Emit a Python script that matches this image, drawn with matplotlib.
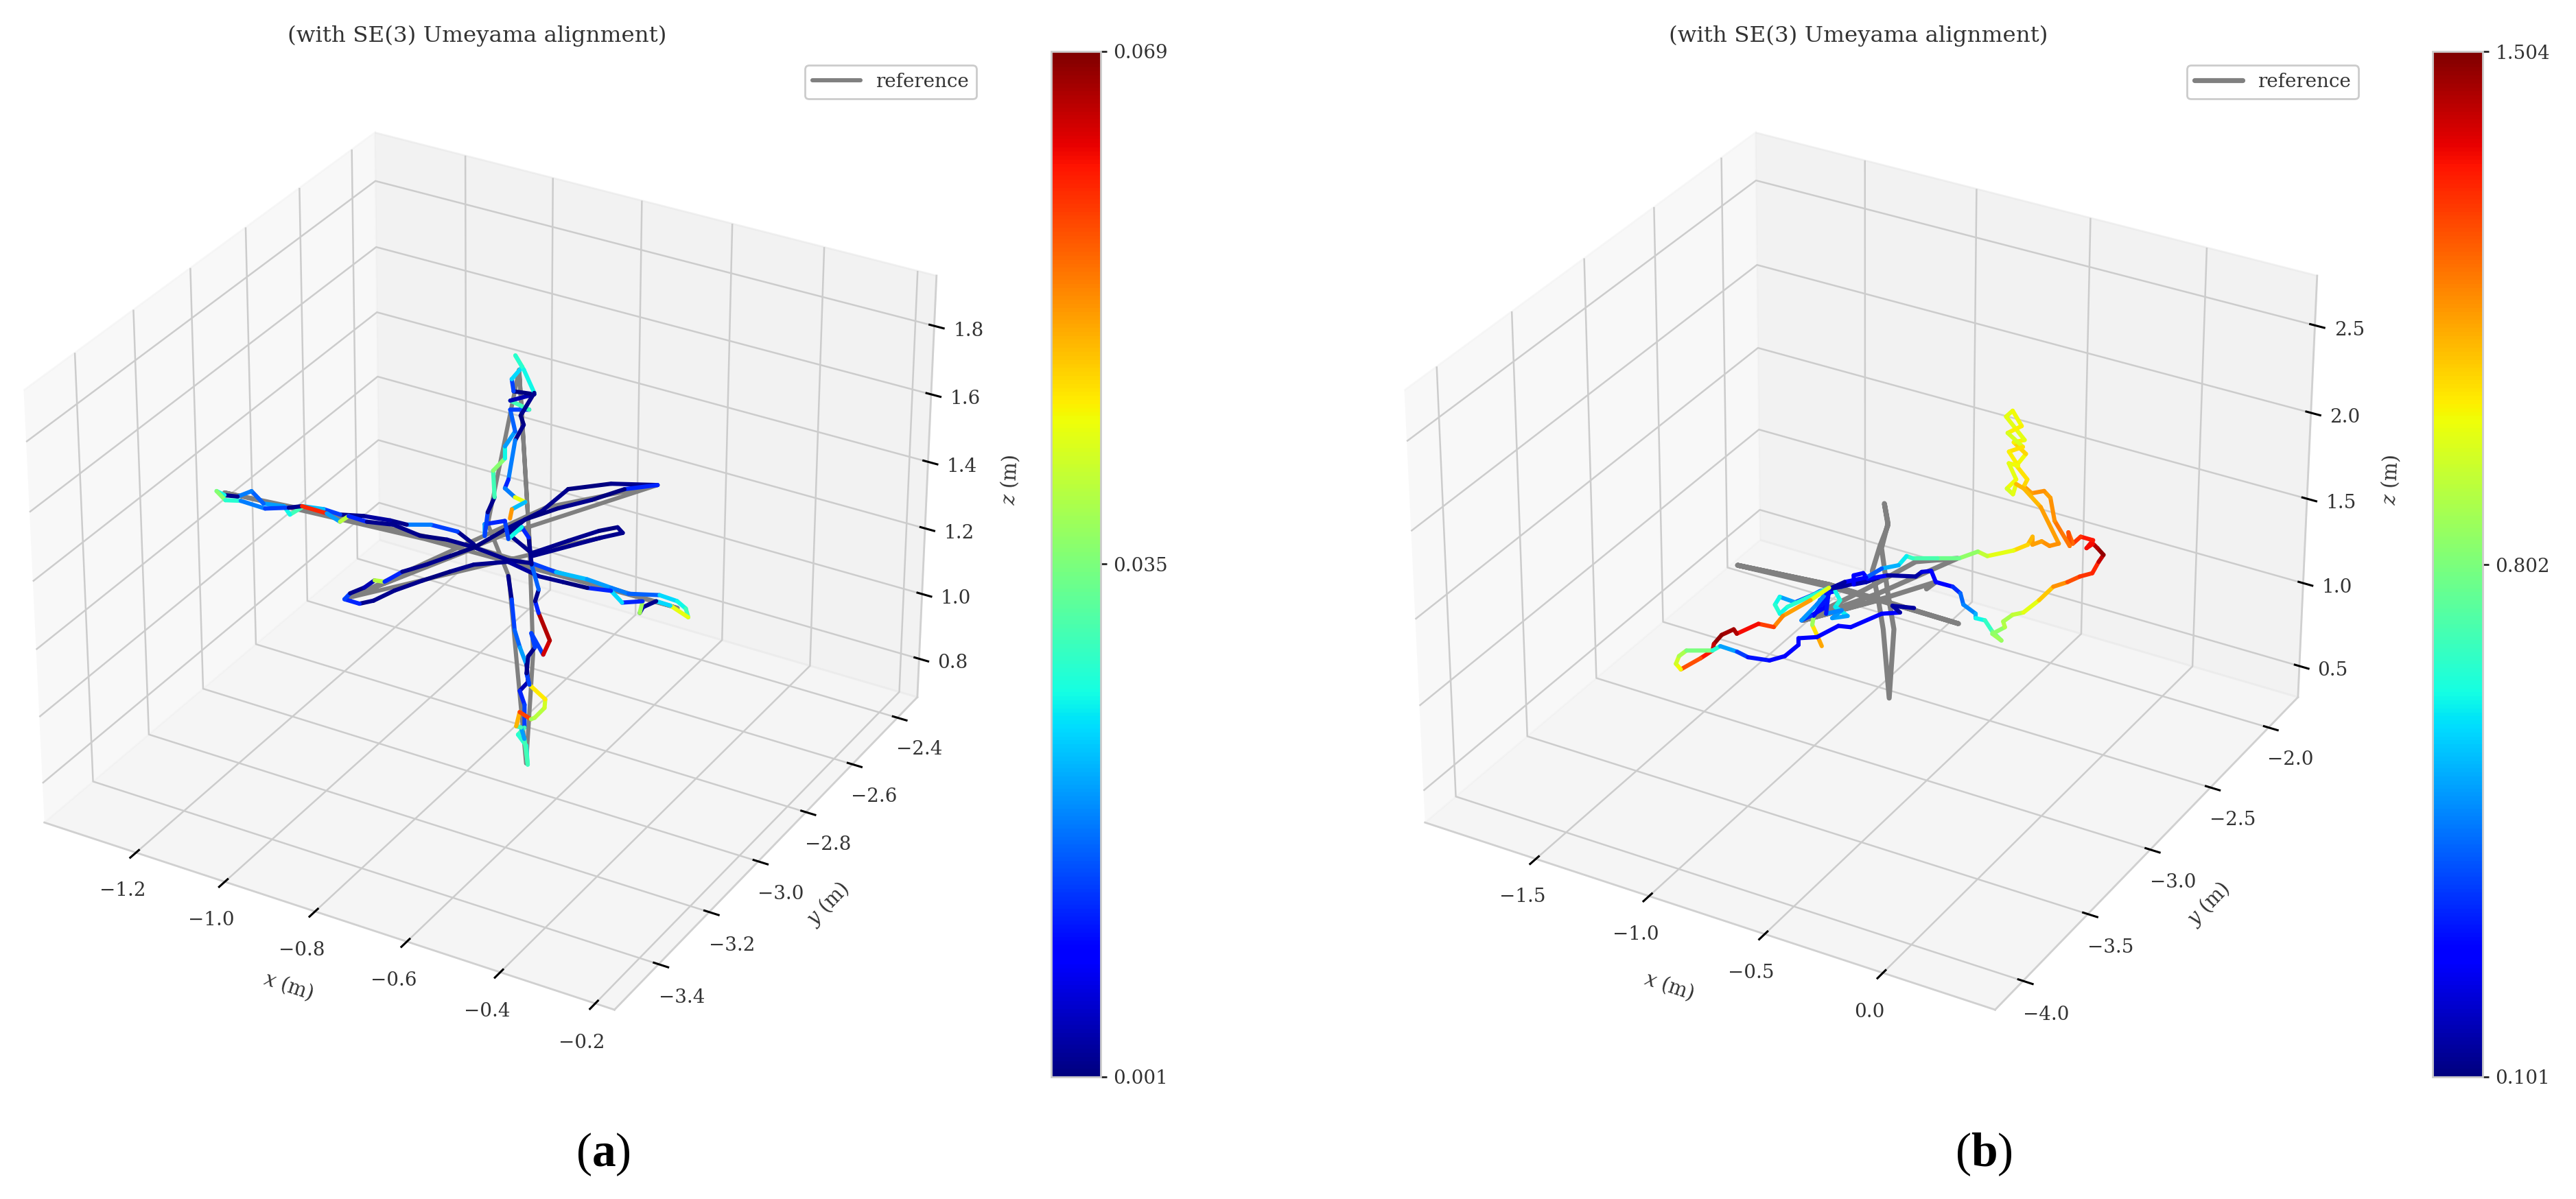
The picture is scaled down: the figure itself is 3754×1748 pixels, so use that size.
import numpy as np
import matplotlib
matplotlib.use("Agg")
import matplotlib.pyplot as plt
import matplotlib.ticker
from matplotlib.colors import Normalize
from matplotlib.cm import ScalarMappable
from mpl_toolkits.mplot3d.art3d import Line3DCollection

plt.rcParams['font.family'] = ['DejaVu Serif']
plt.rcParams['mathtext.fontset'] = 'custom'
plt.rcParams['mathtext.rm'] = 'Liberation Serif'
plt.rcParams['mathtext.bf'] = 'Liberation Serif:bold'
plt.rcParams['mathtext.it'] = 'Liberation Serif:italic'

W, H, DPI = 3755, 1748, 200
TITLE = "(with SE(3) Umeyama alignment)"

# ---------- panel (a): estimated trajectory ----------
ax_px = [-.806,-.858,-.916,-.956,-.992,-1.045,-1.087,-1.126,-1.165,-1.171,-1.198,-1.238,-1.284,-1.296,-1.321,-1.343,-1.309,-1.282,-1.225,-1.187,-1.168,-1.112,-1.073,-1.070,-1.028,-.978,-.912,-.860,-.800,-.720,
         -.678,-.622,-.558,-.503,-.464,-.411,-.372,-.345,-.326,-.375,-.406,-.417,-.412,-.428,-.459,-.498,-.542,-.592,-.642,-.720,
         -.771,-.797,-.825,-.852,-.867,-.884,-.917,-.919,-.907,-.904,-.885,-.875,-.849,-.826,-.803,-.784,-.760,-.758,-.696,-.615,-.663,-.698,-.738,-.772,-.774,-.697,-.659,-.627,-.603,-.584,-.611,-.648,-.691]
ay_px = [-2.961,-2.934,-2.937,-2.960,-2.962,-2.973,-2.991,-2.989,-2.999,-3.040,-3.018,-3.029,-2.999,-3.031,-3.039,-3.033,-3.055,-3.042,-3.044,-3.018,-3.000,-3.000,-3.015,-2.988,-2.989,-2.973,-2.984,-2.971,-2.970,-2.980,
         -2.962,-2.968,-2.962,-2.967,-2.970,-2.945,-2.948,-2.964,-2.990,-2.969,-2.968,-3.000,-3.022,-2.981,-3.005,-2.977,-2.990,-2.994,-2.998,-2.980,
         -3.022,-3.068,-3.123,-3.182,-3.234,-3.257,-3.257,-3.233,-3.201,-3.168,-3.163,-3.114,-3.067,-3.016,-2.965,-2.867,-2.778,-2.676,-2.615,-2.574,-2.621,-2.691,-2.752,-2.822,-2.886,-2.929,-2.851,-2.789,-2.759,-2.773,-2.810,-2.869,-2.938]
az_px = [1.335]*30 + [1.33]*53
ae_px = [.002,.014,.018,.002,.003,.002,.014,.022,.030,.026,.020,.016,.018,.002,.026,.036,.028,.018,.014,.002,.060,.020,.040,.012,.002,.002,.001,.002,.002,.002,
         .014,.022,.020,.018,.016,.024,.026,.030,.044,.024,.002,.004,.038,.012,.024,.012,.001,.002,.003,.002,
         .002,.001,.002,.002,.002,.012,.014,.002,.004,.040,.012,.002,.002,.001,.001,.002,.002,.001,.002,.012,.001,.002,.001,.002,.002,.002,.002,.001,.002,.002,.002,.002,.002]

ax_zt = [-.753,-.747,-.742,-.733,-.722,-.719,-.733,-.725,-.725,-.736,-.722,-.719,-.725,-.731,-.739,-.733,-.714,-.708,-.691,-.690,-.717,-.722,-.719,-.708,-.714,-.694,-.683,-.702,-.708,-.702,-.714,-.719,-.731,-.753,-.759,-.792,-.792,-.787,-.776,-.778,-.759,-.759,-.742,-.750,-.719,-.750,-.711,-.745,-.748,-.731,-.742,-.728,-.711,-.733,-.728,-.742,-.753,-.759,-.742,-.725,-.747,-.750]
ay_zt = [-2.921,-2.918,-2.915,-2.910,-2.903,-2.902,-2.910,-2.905,-2.905,-2.911,-2.903,-2.902,-2.905,-2.908,-2.913,-2.910,-2.899,-2.895,-2.886,-2.885,-2.900,-2.903,-2.902,-2.895,-2.899,-2.887,-2.881,-2.892,-2.895,-2.892,-2.899,-2.902,-2.908,-2.921,-2.924,-2.944,-2.944,-2.941,-2.934,-2.936,-2.924,-2.924,-2.915,-2.920,-2.902,-2.920,-2.897,-2.916,-2.918,-2.908,-2.915,-2.907,-2.897,-2.910,-2.907,-2.915,-2.921,-2.924,-2.915,-2.905,-2.918,-2.920]
az_zt = [1.235,1.165,1.073,1.021,.968,.916,.889,.846,.776,.754,.720,.662,.741,.776,.780,.824,.802,.806,.837,.863,.907,.942,.994,1.021,1.064,.999,1.042,1.125,1.160,1.195,1.270,1.350,1.380,1.345,1.398,1.389,1.354,1.424,1.468,1.546,1.581,1.616,1.660,1.723,1.723,1.749,1.767,1.775,1.810,1.845,1.878,1.837,1.771,1.706,1.679,1.634,1.520,1.494,1.468,1.454,1.433,1.406]
ae_zt = [.002,.014,.016,.020,.002,.004,.012,.014,.030,.028,.026,.030,.020,.030,.050,.058,.038,.040,.042,.046,.014,.002,.002,.014,.014,.064,.066,.012,.002,.016,.002,.012,.026,.014,.012,.020,.014,.002,.030,.036,.026,.020,.016,.014,.030,.004,.001,.014,.024,.036,.028,.026,.002,.001,.002,.018,.012,.018,.044,.022,.052,.002]

# ---------- panel (a): reference ----------
ax_rf = [-.720,-.90,-1.327,-1.10,-.80,-.359,-.55,-.720,-.80,-.912,-.78,-.615,-.76,-.912,-.611,-.700,-.736,-.787,-.752,-.722,-.712,-.719,-.736]
ay_rf = [-2.980,-2.985,-3.030,-2.995,-2.965,-2.970,-2.975,-2.980,-2.965,-3.247,-2.900,-2.574,-2.760,-3.247,-2.810,-2.930,-2.911,-2.941,-2.921,-2.903,-2.895,-2.900,-2.911]
az_rf = [1.33,1.33,1.335,1.33,1.33,1.33,1.33,1.33,1.33,1.33,1.33,1.33,1.33,1.33,1.33,1.33,1.837,1.389,1.235,.665,1.000,1.354,1.837]

# ---------- panel (b): estimated trajectory ----------
bx_tr = [-.926,-.942,-.957,-.952,-.901,-.931,-.911,-.962,-.992,-.942,-.911,-.881,-.865,-.881,-.840,-.891,-.860,-.911,-.901,-.860,-.739,-.779,-.820,-.820,-.789,-.774,-.708,-.617,-.597,-.566,-.551,-.495,-.470,-.460,-.419,-.419,-.388,-.363,-.333,-.363,-.322,-.328,-.297,-.262,-.211,-.165,-.119,-.079,-.038,-.018,-.003,-.023,-.038,-.059,-.038,-.079,-.104,-.119,-.114,-.165,-.180,-.201,-.241,-.267,-.256,-.292,-.262,-.302,-.267,-.328,-.307,-.277,-.322,-.272,-.317,-.287,-.317,-.292,-.322,-.302,-.292,-.267,-.211,-.150,-.180,-.206,-.236,-.236,-.251,-.297,-.383,-.414,-.475,-.546,-.627,-.647,-.673,-.728,-.779,-.850,-.901,-.931,-.952,-1.013,-1.063,-1.079,-1.063,-1.038,-.901,-.962,-1.053,-1.084,-1.134,-1.206,-1.216,-1.256,-1.282,-1.287,-1.327,-1.393,-1.409,-1.398,-1.373,-1.287,-1.261,-1.206,-1.170,-1.099,-1.048,-1.003,-1.003,-.942,-.871,-.830,-.728,-.668,-.693,-.622]
by_tr = [-3.065,-3.074,-3.083,-3.080,-3.051,-3.068,-3.057,-3.086,-3.104,-3.074,-3.057,-3.039,-3.030,-3.039,-3.016,-3.045,-3.027,-3.057,-3.051,-3.027,-2.957,-2.980,-3.004,-3.004,-2.986,-2.977,-2.939,-2.886,-2.875,-2.857,-2.848,-2.816,-2.801,-2.795,-2.772,-2.772,-2.754,-2.740,-2.722,-2.740,-2.716,-2.719,-2.702,-2.681,-2.652,-2.625,-2.599,-2.575,-2.552,-2.540,-2.531,-2.543,-2.552,-2.564,-2.552,-2.575,-2.590,-2.599,-2.596,-2.625,-2.634,-2.646,-2.669,-2.684,-2.678,-2.699,-2.681,-2.704,-2.684,-2.719,-2.707,-2.690,-2.716,-2.687,-2.713,-2.696,-2.713,-2.699,-2.716,-2.704,-2.699,-2.684,-2.652,-2.616,-2.634,-2.649,-2.666,-2.666,-2.675,-2.702,-2.751,-2.769,-2.804,-2.845,-2.892,-2.904,-2.919,-2.951,-2.980,-3.021,-3.051,-3.068,-3.080,-3.115,-3.145,-3.154,-3.145,-3.130,-3.051,-3.086,-3.139,-3.156,-3.186,-3.227,-3.233,-3.256,-3.271,-3.274,-3.297,-3.335,-3.344,-3.338,-3.324,-3.274,-3.259,-3.227,-3.206,-3.165,-3.136,-3.109,-3.109,-3.074,-3.033,-3.010,-2.951,-2.916,-2.930,-2.889]
bz_tr = [.982,1.048,1.107,1.160,1.292,1.252,1.213,1.160,1.134,1.226,1.292,1.305,1.252,1.213,1.160,1.147,1.193,1.173,1.318,1.331,1.384,1.358,1.344,1.397,1.410,1.377,1.397,1.390,1.417,1.423,1.358,1.331,1.292,1.226,1.173,1.147,1.134,1.068,1.015,1.055,1.094,1.127,1.167,1.180,1.252,1.331,1.358,1.390,1.410,1.476,1.516,1.555,1.581,1.555,1.601,1.621,1.581,1.647,1.568,1.713,1.845,1.884,1.871,1.911,1.950,2.029,2.095,2.161,2.174,2.306,2.339,2.253,2.214,2.135,2.108,2.029,2.042,1.950,1.898,1.865,1.924,1.898,1.792,1.581,1.568,1.595,1.575,1.621,1.575,1.542,1.509,1.535,1.496,1.496,1.496,1.509,1.456,1.437,1.384,1.358,1.318,1.305,1.285,1.239,1.272,1.226,1.173,1.213,1.325,1.252,1.160,1.094,1.114,1.055,1.081,1.048,.995,.956,.910,.844,.877,.923,.956,.956,.982,.949,.916,.897,.923,.989,1.028,1.035,1.101,1.094,1.173,1.180,1.219,1.206]
be_tr = [1.13,1.04,.86,.30,.32,.30,.28,.34,.48,.46,.30,.62,.64,.60,.50,.48,.46,.30,.14,.14,.14,.16,.26,.28,.26,.28,.14,.15,.22,.26,.28,.34,.42,.46,.52,.62,.68,.78,.86,.84,.90,.88,.92,.98,1.08,1.16,1.26,1.30,1.32,1.42,1.48,1.44,1.36,1.36,1.34,1.30,1.22,1.26,1.20,1.16,1.14,1.16,1.14,1.06,1.04,1.00,1.06,1.02,.98,.98,1.00,1.02,.96,1.04,1.02,1.00,.98,1.00,.96,.98,1.10,1.10,1.14,1.16,1.16,1.14,1.14,1.10,1.06,.98,.92,.84,.78,.72,.68,.60,.52,.40,.26,.14,.24,.40,.34,.50,.62,.66,.62,.66,.98,1.14,1.18,1.28,1.36,1.44,1.46,1.48,1.42,1.34,1.26,1.00,.94,.88,.80,.66,.50,.36,.30,.28,.27,.28,.27,.26,.27,.28,.26,.15,.14,.13]

# ---------- panel (b): reference ----------
bx_rf = [-1.200,-.901,-.728,-.475,-.647,-.901,-1.200,-.901,-.739,-.723,-.703,-.688,-.708,-.729,-.708,-.720,-.708,-.734,-.759,-.739,-.987,-.739,-.480,-.617,-.779,-.987,-.718,-.551,-.581]
by_rf = [-3.224,-3.051,-2.951,-2.804,-2.904,-3.051,-3.224,-3.051,-2.957,-2.948,-2.936,-2.927,-2.939,-2.951,-2.939,-2.946,-2.939,-2.954,-2.969,-2.957,-3.101,-2.957,-2.807,-2.886,-2.980,-3.101,-2.945,-2.848,-2.866]
bz_rf = [1.456,1.344,1.252,1.114,1.206,1.331,1.456,1.344,1.252,1.081,.673,1.081,1.292,1.555,1.700,1.812,1.687,1.568,1.423,1.252,1.134,1.292,1.496,1.476,1.318,1.134,1.265,1.358,1.318]

# ---------- axes ticks / limits ----------
a_xticks = [-1.2,-1.0,-0.8,-0.6,-0.4,-0.2]
a_yticks = [-3.4,-3.2,-3.0,-2.8,-2.6,-2.4]
a_zticks = [0.8,1.0,1.2,1.4,1.6,1.8]
a_lims = ((-1.41,-.16),(-3.57,-2.31),(.68,1.945))
a_cbar = (0.001,0.035,0.069)
b_xticks = [-1.5,-1.0,-0.5,0.0]
b_yticks = [-4.0,-3.5,-3.0,-2.5,-2.0]
b_zticks = [0.5,1.0,1.5,2.0,2.5]
b_lims = ((-2.0,.465),(-4.21,-1.74),(.31,2.78))
b_cbar = (0.101,0.802,1.504)

fig = plt.figure(figsize=(W/DPI, H/DPI), dpi=DPI)

def rect(x0, y0, x1, y1):
    return [x0/W, 1-y1/H, (x1-x0)/W, (y1-y0)/H]

def segs(x, y, z):
    p = np.column_stack([x, y, z]).reshape(-1, 1, 3)
    return np.concatenate([p[:-1], p[1:]], axis=1)

def fmt(v, pos=None):
    return f'{v:.1f}'.replace('-', '\u2212')

def panel(box, lims, ticks, tr_list, rf, cbar, cbox, legbox, title_xy, cap, cap_xy, rf_lw):
    ax = fig.add_axes(rect(*box), projection='3d')
    ax.apply_aspect = lambda position=None: None
    ax.computed_zorder = False
    ax.view_init(elev=30, azim=-60)
    ax.set_xlim(*lims[0], view_margin=0)
    ax.set_ylim(*lims[1], view_margin=0)
    ax.set_zlim(*lims[2], view_margin=0)
    ax.set_xticks(ticks[0]); ax.set_yticks(ticks[1]); ax.set_zticks(ticks[2])
    ax.patch.set_alpha(0)
    for a, nm in zip((ax.xaxis, ax.yaxis, ax.zaxis), 'xyz'):
        a.set_major_formatter(matplotlib.ticker.FuncFormatter(fmt))
        a.line.set_color('#d0d0d0'); a.line.set_linewidth(1.0)
        a._axinfo['grid'].update(color='#cccccc', linewidth=0.9)
        a._axinfo['tick'].update(color='#262626', linewidth={True: 1.1, False: 0.5})
        a.set_tick_params(labelsize=10, labelcolor='#333333', pad=3)
        a.set_label_text(f'${nm}$ (m)', fontsize=10.3, color='#333333', math_fontfamily='dejavuserif')
        a.labelpad = 6
    rfline, = ax.plot(*rf, color='gray', lw=rf_lw, zorder=2, label='reference', solid_capstyle='round')
    norm = Normalize(cbar[0], cbar[-1])
    for tr in tr_list:
        c = plt.cm.jet(norm(np.array(tr[3][:-1])))
        lc = Line3DCollection(segs(tr[0], tr[1], tr[2]), colors=c, linewidths=2.2, zorder=3,
                              capstyle='round', joinstyle='round')
        ax.add_collection3d(lc)
    cax = fig.add_axes(rect(*cbox))
    cb = fig.colorbar(ScalarMappable(norm=norm, cmap='jet'), cax=cax, ticks=list(cbar), format='%.3f')
    cb.outline.set_edgecolor('#cccccc'); cb.outline.set_linewidth(1.0)
    cax.tick_params(labelsize=10, labelcolor='#333333', color='#262626', length=3.2, width=1.0, pad=3.4)
    fig.legend(handles=[rfline], loc='upper right', bbox_to_anchor=(legbox[0]/W, 1-legbox[1]/H),
               fontsize=10, borderaxespad=0, frameon=True, edgecolor='#cccccc', framealpha=1,
               labelcolor='#333333', handlelength=2.5)
    fig.text(title_xy[0]/W, 1-title_xy[1]/H, TITLE, ha='center', va='center', fontsize=11.7, color='#333333')
    fig.text(cap_xy[0]/W, 1-cap_xy[1]/H, rf'($\mathbf{{{cap}}}$)', ha='center', va='center',
             fontsize=25, family='Liberation Serif', color='black')

panel((-47, 78, 1432, 1566), a_lims, (a_xticks, a_yticks, a_zticks),
      [(ax_px, ay_px, az_px, ae_px), (ax_zt, ay_zt, az_zt, ae_zt)],
      (ax_rf, ay_rf, az_rf), a_cbar, (1532, 75, 1604, 1570), (1423, 95), (695, 52), 'a', (879, 1683), 2.2)
panel((1965, 78, 3444, 1566), b_lims, (b_xticks, b_yticks, b_zticks),
      [(bx_tr, by_tr, bz_tr, be_tr)],
      (bx_rf, by_rf, bz_rf), b_cbar, (3545, 75, 3618, 1570), (3437, 95), (2708, 52), 'b', (2891, 1683), 2.6)

fig.savefig('out.png', dpi=DPI, facecolor='white')
